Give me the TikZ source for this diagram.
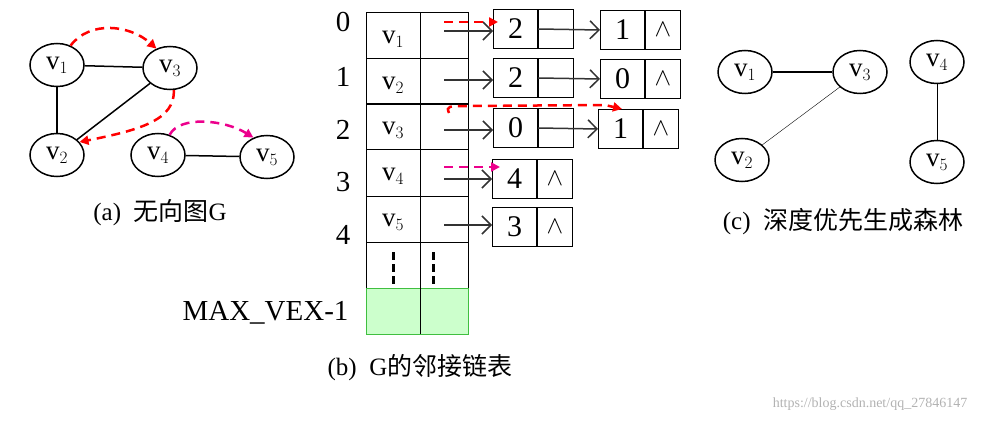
\documentclass[tikz,border=0pt]{standalone}
\usepackage{fontspec}
\setmainfont{Liberation Serif}
\newfontfamily\cjk{Noto Sans CJK SC}
\usetikzlibrary{arrows.meta,shapes.geometric}
\tikzset{
    vtx/.style = {draw, ellipse, line width=1.5pt, minimum width=54pt, minimum height=43pt, inner sep=0pt, font=\fontsize{27}{27}\selectfont},
    cell/.style = {draw, rectangle, line width=1pt, minimum height=39pt, inner sep=0pt, font=\fontsize{30}{30}\selectfont},
    link/.style = {draw, ->, >={Straight Barb[length=9pt]}, line width=1.5pt, black!80},
    trail/.style = {line width=2.5pt, dash pattern=on 9pt off 6pt, -{Triangle[length=9pt,width=9pt]}},
    idx/.style = {font=\fontsize{29}{29}\selectfont},
    captext/.style = {font=\fontsize{25}{25}\selectfont}
}
\newcommand{\vv}[1]{v$_{#1}$}
\begin{document}
\begin{tikzpicture}[x=1pt,y=-1pt]
    \useasboundingbox (0,0) rectangle (995,422);
    % (a) undirected graph
    \node [vtx] (a1) at (57,65) {\vv1};
    \node [vtx] (a3) at (170,68) {\vv3};
    \node [vtx] (a2) at (57,155) {\vv2};
    \node [vtx] (a4) at (158,155) {\vv4};
    \node [vtx] (a5) at (267,157) {\vv5};
    \draw [line width=1.5pt] (a1) -- (a3);
    \draw [line width=1.5pt] (a1) -- (a2);
    \draw [line width=1.5pt] (a3) -- (a2);
    \draw [line width=1.5pt] (a4) -- (a5);
    \draw [trail, red] (a1.55) .. controls (90,20) and (130,25) .. (a3.125);
    \draw [trail, red] (a3.-80) .. controls (175,120) and (140,130) .. (a2.30);
    \draw [trail, magenta] (a4.60) .. controls (180,115) and (225,120) .. (a5.125);
    \node [captext] (capa) at (160,213) {(a)\ \ {\cjk 无向图}G};
    % (b) adjacency list
    \foreach \i/\y in {0/13,1/59,2/104,3/150,4/196,5/242}{
        \draw [line width=1pt] (366,\y) rectangle (420,\y+46);
        \draw [line width=1pt] (420,\y) rectangle (468,\y+46);
    }
    \fill [green!20] (366,288) rectangle (468,334);
    \draw [green!50!gray] (366,288) rectangle (468,334);
    \draw (420,288) -- (420,334);
    \foreach \n/\y in {1/36,2/82,3/127,4/173,5/219}{
        \node [font=\fontsize{27}{27}\selectfont] (h\n) at (393,\y+3) {\vv\n};
    }
    \foreach \x in {393,433}{
        \draw [line width=3pt, dash pattern=on 8pt off 4pt] (\x,252) -- (\x,284);
    }
    \foreach \i/\y in {0/22,1/77,2/130,3/182,4/235}{
        \node [idx] (i\i) at (343,\y) {\i};
    }
    \node [idx, anchor=east] (maxv) at (352,313) {MAX\_VEX-1};
    % edge nodes
    \foreach \r/\x/\y/\v in {a0/493/9/2,a1/493/58/2,a2/493/108/0,a3/492/159/4,a4/492/207/3,
                             b0/600/10/1,b1/600/59/0,b2/598/109/1}{
        \node [cell, minimum width=44pt, anchor=north west] (v\r) at (\x,\y) {\v};
        \node [cell, minimum width=35pt, anchor=west] (n\r) at (v\r.east) {};
    }
    \foreach \r in {a3,a4,b0,b1,b2}{
        \node [font=\fontsize{26}{26}\selectfont] at (n\r) {$\wedge$};
    }
    \foreach \r/\y in {0/31,1/80,2/130,3/179,4/225}{
        \coordinate (s\r) at (444,\y);
        \draw [link] (s\r) -- (va\r.west |- s\r);
    }
    \foreach \r in {0,1,2}{
        \draw [link] ([xshift=-18pt]na\r.center) -- (vb\r.west);
    }
    \coordinate (t0) at (444,22);
    \coordinate (t2) at (449,113);
    \coordinate (t3) at (444,167);
    \draw [trail, red] (t0) -- ([shift={(5pt,-13pt)}]va0.north west);
    \draw [trail, red] (t2) .. controls (446,106) and (448,106) .. (470,106) -- (605,105) -- ([xshift=24pt]vb2.north west);
    \draw [trail, magenta] (t3) -- ([shift={(8pt,-8pt)}]va3.north west);
    \node [captext] (capb) at (420,368) {(b)\ \ G{\cjk 的邻接链表}};
    % (c) DFS forest
    \node [vtx] (c1) at (745,72) {\vv1};
    \node [vtx] (c3) at (860,72) {\vv3};
    \node [vtx] (c2) at (742,160) {\vv2};
    \node [vtx] (c4) at (937,62) {\vv4};
    \node [vtx] (c5) at (937,162) {\vv5};
    \draw [line width=1.5pt] (c1) -- (c3);
    \draw (c3) -- (c2);
    \draw (c4) -- (c5);
    \node [captext] (capc) at (843,222) {(c)\ \ {\cjk 深度优先生成森林}};
    \node [font=\fontsize{14}{14}\selectfont, gray!60] (mark) at (870,404) {https://blog.csdn.net/qq\_27846147};
\end{tikzpicture}
\end{document}
